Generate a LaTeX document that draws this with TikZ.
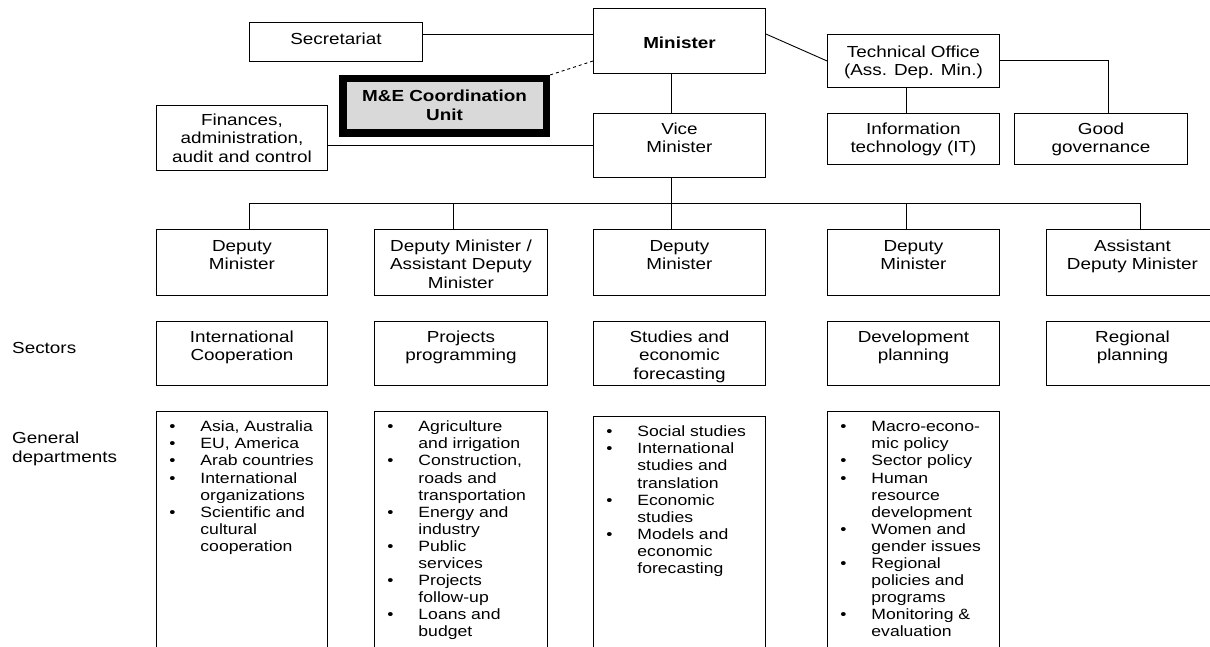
\documentclass[tikz,border=0pt]{standalone}
\usepackage{fontspec}
\setmainfont{Liberation Sans}[FakeStretch=1.18]
\usetikzlibrary{positioning}

\newcommand{\boxfont}{\fontsize{16}{18.4}\selectfont}
\newcommand{\listfont}{\fontsize{14.9}{17.1}\selectfont}
% width, height, first baseline, text
\newcommand{\cellbox}[4]{\parbox[c][#2][t]{#1}{\boxfont\centering\rule{0pt}{#3}#4}}
% width, height, items
\newcommand{\gdlist}[3]{\parbox[c][#2][t]{#1}{\listfont\hyphenpenalty=10000\leftskip=13pt\vspace*{8.3pt}#3}}
\newcommand{\gditem}[1]{\par\hangindent=31pt\hangafter=1\noindent\makebox[31pt][l]{\textbullet}\rule{0pt}{12pt}#1}

\begin{document}
\begin{tikzpicture}[x=1pt, y=-1pt,
      unit/.style={draw, line width=0.9pt, inner sep=0pt, anchor=north west},
      mne/.style={draw, line width=7.5pt, fill=black!15, inner sep=0pt, anchor=north west},
      link/.style={line width=0.9pt},
      side/.style={anchor=west, align=left, font=\boxfont, inner sep=0pt}]

    \useasboundingbox (0,0) rectangle (1210,647);
    \clip (0,0) rectangle (1210,647);

    % ===== Minister level =====
    \node[unit] (secr) at (249,22)  {\cellbox{173pt}{39pt}{21.8pt}{Secretariat}};
    \node[unit] (min)  at (593,8)   {\cellbox{172pt}{65pt}{39.8pt}{\bfseries Minister}};
    \node[mne]  (mne)  at (339,75)  {\cellbox{203.5pt}{54.5pt}{23pt}{\bfseries M\&E Coordination\\Unit}};
    \node[unit] (fin)  at (156,105) {\cellbox{171pt}{65pt}{19.8pt}{Finances,\\administration,\\audit and control}};
    \node[unit] (vice) at (593,113) {\cellbox{172pt}{64pt}{20.8pt}{Vice\\Minister}};
    \node[unit] (tech) at (827,34)  {\cellbox{172pt}{53pt}{22.8pt}{Technical Office\\(Ass. Dep. Min.)}};
    \node[unit] (it)   at (827,113) {\cellbox{172pt}{51pt}{20.8pt}{Information\\technology (IT)}};
    \node[unit] (gg)   at (1014,113) {\cellbox{173pt}{51pt}{20.8pt}{Good\\governance}};

    % ===== Deputies and sectors =====
    \foreach \n/\x/\w/\txt in {
        1/156/171/{Deputy\\Minister},
        2/374/173/{Deputy Minister /\\Assistant Deputy\\Minister},
        3/593/172/{Deputy\\Minister},
        4/827/172/{Deputy\\Minister},
        5/1046/172/{Assistant\\Deputy Minister}} {
        \node[unit] (dep\n) at (\x,229) {\cellbox{\w pt}{66pt}{21.8pt}{\txt}};
    }
    \foreach \n/\x/\w/\txt in {
        1/156/171/{International\\Cooperation},
        2/374/173/{Projects\\programming},
        3/593/172/{Studies and\\economic\\forecasting},
        4/827/172/{Development\\planning},
        5/1046/172/{Regional\\planning}} {
        \node[unit] (sec\n) at (\x,321) {\cellbox{\w pt}{64pt}{20.8pt}{\txt}};
    }

    % ===== General departments =====
    \node[unit] (gd1) at (156,411) {\gdlist{171pt}{260pt}{%
        \gditem{Asia, Australia}\gditem{EU, America}\gditem{Arab countries}%
        \gditem{International\\organizations}\gditem{Scientific and\\cultural\\cooperation}}};
    \node[unit] (gd2) at (374,411) {\gdlist{173pt}{260pt}{%
        \gditem{Agriculture\\and irrigation}\gditem{Construction,\\roads and\\transportation}%
        \gditem{Energy and\\industry}\gditem{Public\\services}%
        \gditem{Projects\\follow-up}\gditem{Loans and\\budget}}};
    \node[unit] (gd3) at (593,416) {\gdlist{172pt}{260pt}{%
        \gditem{Social studies}\gditem{International\\studies and\\translation}%
        \gditem{Economic\\studies}\gditem{Models and\\economic\\forecasting}}};
    \node[unit] (gd4) at (827,411) {\gdlist{172pt}{260pt}{%
        \gditem{Macro-econo-\\mic policy}\gditem{Sector policy}%
        \gditem{Human\\resource\\development}\gditem{Women and\\gender issues}%
        \gditem{Regional\\policies and\\programs}\gditem{Monitoring \&\\evaluation}}};

    % ===== Row labels =====
    \node[side] (sectors) at (12,348) {Sectors};
    \node[side] (gendep)  at (12,449) {General\\departments};

    % ===== Connectors =====
    \coordinate (spine) at (671,203);
    \draw[link] ([yshift=-12pt]secr.north east) -- ([yshift=-26pt]min.north west);
    \draw[link, dashed] ([yshift=-53pt]min.north west) -- (mne.north east);
    \draw[link] ([yshift=-26pt]min.north east) -- (tech.west);
    \draw[link] ([xshift=-7pt]tech.south) -- ([xshift=-7pt]it.north);
    \draw[link] (tech.east) -| ([xshift=7pt]gg.north);
    \draw[link] (min.south -| spine) -- (vice.north -| spine);
    \draw[link] (vice.west -| fin.east) -- (vice.west);
    \draw[link] (vice.south -| spine) -- (dep3.north -| spine);
    \foreach \n/\dx in {1/7.5, 2/-7.5, 4/-7, 5/8} {
        \draw[link] ([xshift=\dx pt]dep\n.north) |- (spine);
    }

\end{tikzpicture}
\end{document}
